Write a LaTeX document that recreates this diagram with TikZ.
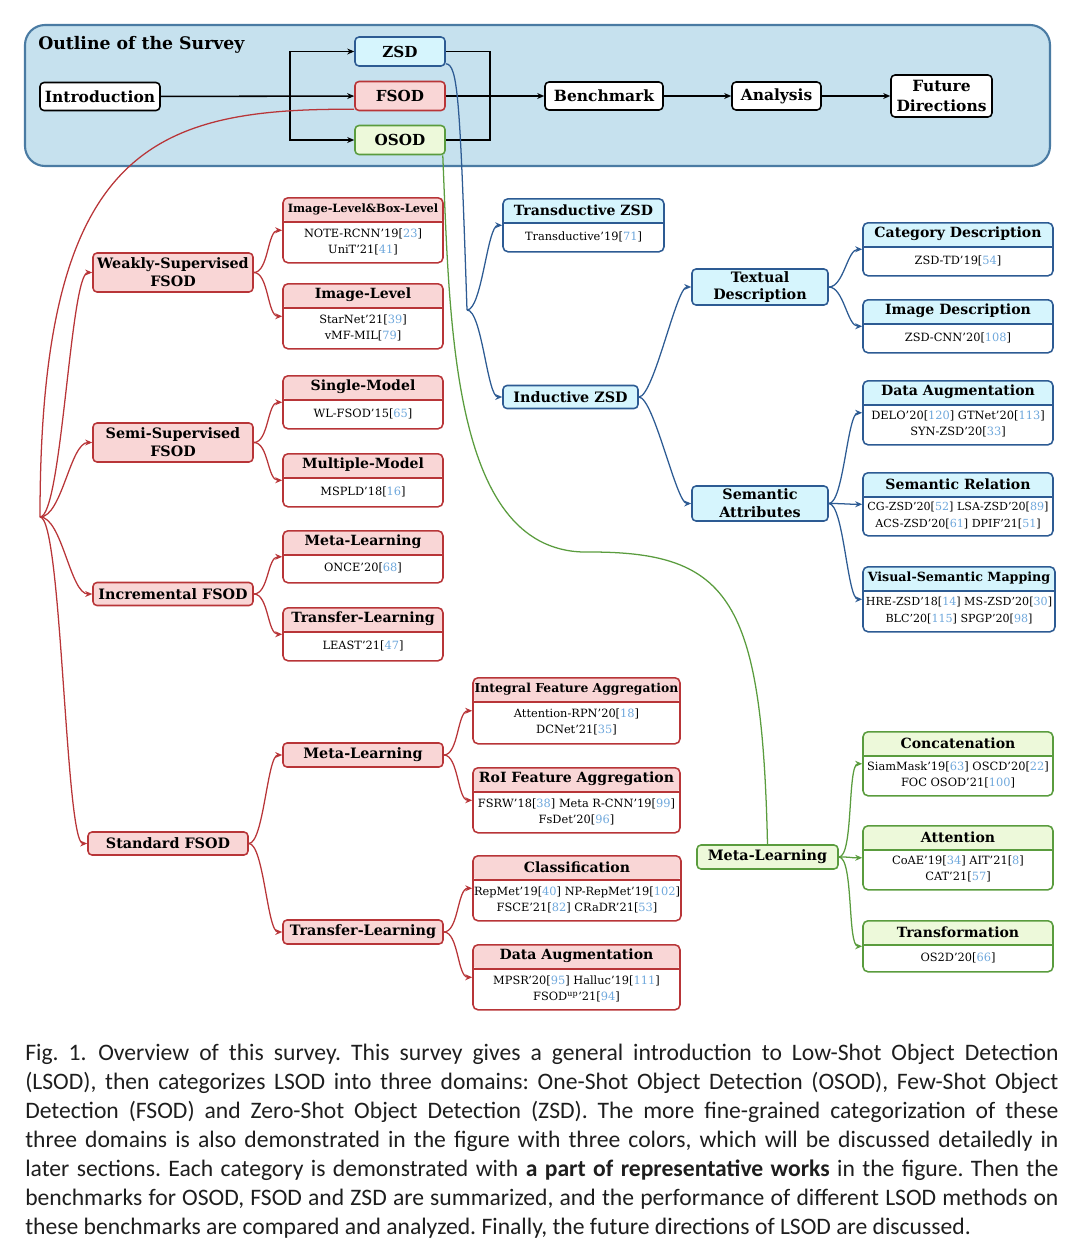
\documentclass[tikz,border=0pt]{standalone}
\usepackage{fontspec}
\setmainfont{DejaVu Serif}
\newfontfamily\capfont{Carlito}
\usetikzlibrary{arrows.meta}

\definecolor{panelfill}{HTML}{C6E1EE}
\definecolor{panelline}{HTML}{4A7BA3}
\definecolor{redfill}{HTML}{F9D6D6}
\definecolor{redline}{HTML}{B83538}
\definecolor{bluefill}{HTML}{D6F5FD}
\definecolor{blueline}{HTML}{2D5B93}
\definecolor{greenfill}{HTML}{EDF9DA}
\definecolor{greenline}{HTML}{5A9C3E}
\definecolor{citeblue}{HTML}{6FA8DC}
\definecolor{captext}{HTML}{1E1E1E}

\newdimen\px \px=0.025cm
\newcommand{\cit}[1]{[{\color{citeblue}#1}]}
% box with a coloured title strip: [body opts]{colour}{name}{x}{top}{width}{height}{title}{works}
\newcommand{\leafnode}[9][]{%
  \node[leaf=#2, minimum width=#6\px, minimum height=#7\px] (#3) at (#4,#5) {};
  \node[head] (#3-head) at (#4,#5+12) {#8};
  \node[body, #1] (#3-body) at (#4,{#5+12+#7/2}) {#9};
}

\tikzset{
  box/.style={rounded corners=4\px, line width=1.1pt, inner sep=1pt, align=center,
    font=\bfseries\fontsize{10.2}{12.6}\selectfont},
  topbox/.style={box, draw=black, fill=white, minimum height=28\px,
    font=\bfseries\fontsize{11}{14.2}\selectfont},
  domainbox/.style={minimum width=90\px, minimum height=29\px,
    font=\bfseries\fontsize{10.8}{13}\selectfont},
  redbox/.style={box, draw=redline, fill=redfill},
  bluebox/.style={box, draw=blueline, fill=bluefill},
  greenbox/.style={box, draw=greenline, fill=greenfill},
  leaf/.style={draw=#1line, fill=white, rounded corners=5\px, line width=1.1pt, anchor=north,
    path picture={
      \fill[#1fill] (path picture bounding box.north west) rectangle ([yshift=-24\px]path picture bounding box.north east);
      \draw[#1line, line width=1.1pt] ([yshift=-24\px]path picture bounding box.north west) -- ([yshift=-24\px]path picture bounding box.north east);
    }},
  head/.style={font=\bfseries\fontsize{10}{11}\selectfont, inner sep=0pt},
  body/.style={font=\fontsize{8.1}{11.4}\selectfont, align=center, inner sep=0pt},
  link/.style={line width=0.9pt, -{Stealth[length=5pt,width=4.2pt]}},
  toplink/.style={link, draw=black, line width=1.1pt},
  redlink/.style={link, draw=redline},
  bluelink/.style={link, draw=blueline},
  greenlink/.style={link, draw=greenline},
}

\begin{document}
\begin{tikzpicture}[x=0.025cm, y=-0.025cm]
\useasboundingbox (0,0) rectangle (1080,1258);

% outline of the survey
\draw[panelline, fill=panelfill, line width=1.5pt, rounded corners=20\px] (25,25) rectangle (1050,166);
\node[anchor=base west, inner sep=0pt, font=\bfseries\fontsize{12.3}{14}\selectfont] (outline) at (38,49) {Outline of the Survey};

\node[topbox, minimum width=120\px] (intro) at (100,96.5) {Introduction};
\node[bluebox, domainbox] (zsd) at (400,51.5) {ZSD};
\node[redbox, domainbox] (fsod) at (400,96) {FSOD};
\node[greenbox, domainbox] (osod) at (400,140) {OSOD};
\node[topbox, minimum width=118\px] (bench) at (604,96) {Benchmark};
\node[topbox, minimum width=89\px] (anal) at (776.5,96) {Analysis};
\node[topbox, minimum width=101\px, minimum height=42\px] (future) at (941.5,96) {Future\\Directions};

\coordinate (split) at (290,96);
\coordinate (join) at (490,96);
\draw[toplink] (intro) -- (fsod);
\draw[toplink] (split) |- (zsd);
\draw[toplink] (split) |- (osod);
\draw[toplink, -] (zsd) -| (join);
\draw[toplink, -] (osod) -| (join);
\draw[toplink] (fsod) -- (bench);
\draw[toplink] (bench) -- (anal);
\draw[toplink] (anal) -- (future);

% FSOD
\node[redbox, minimum width=160\px, minimum height=39\px] (weakly) at (173,272.5) {Weakly-Supervised\\FSOD};
\node[redbox, minimum width=160\px, minimum height=39\px] (semi) at (173,442.5) {Semi-Supervised\\FSOD};
\node[redbox, minimum width=160\px, minimum height=23\px] (incr) at (173,594) {Incremental FSOD};
\node[redbox, minimum width=160\px, minimum height=23\px] (std) at (168,843.5) {Standard FSOD};
\node[redbox, minimum width=160\px, minimum height=24\px] (stdml) at (363,755) {Meta-Learning};
\node[redbox, minimum width=160\px, minimum height=24\px] (stdtl) at (363,932) {Transfer-Learning};

\leafnode{red}{ilbl}{363}{197}{160}{65}{\fontsize{8.1}{9}\selectfont Image-Level\&Box-Level}{NOTE-RCNN'19\cit{23}\\UniT'21\cit{41}}
\leafnode{red}{il}{363}{283}{160}{65}{Image-Level}{StarNet'21\cit{39}\\vMF-MIL\cit{79}}
\leafnode{red}{single}{363}{375}{160}{53}{Single-Model}{WL-FSOD'15\cit{65}}
\leafnode{red}{multi}{363}{453}{160}{53}{Multiple-Model}{MSPLD'18\cit{16}}
\leafnode{red}{incml}{363}{530}{160}{52}{Meta-Learning}{ONCE'20\cit{68}}
\leafnode{red}{inctl}{363}{607}{160}{53}{Transfer-Learning}{LEAST'21\cit{47}}
\leafnode{red}{ifa}{576.5}{677}{207}{66}{\fontsize{8.8}{10}\selectfont Integral Feature Aggregation}{Attention-RPN'20\cit{18}\\DCNet'21\cit{35}}
\leafnode{red}{rfa}{576.5}{767}{207}{65}{RoI Feature Aggregation}{FSRW'18\cit{38} Meta R-CNN'19\cit{99}\\FsDet'20\cit{96}}
\leafnode{red}{cls}{577}{855}{208}{65}{Classification}{RepMet'19\cit{40} NP-RepMet'19\cit{102}\\FSCE'21\cit{82} CRaDR'21\cit{53}}
\leafnode{red}{daf}{576.5}{944}{207}{65}{Data Augmentation}{MPSR'20\cit{95} Halluc'19\cit{111}\\FSOD\textsuperscript{up}'21\cit{94}}

\coordinate (fsfork) at (40,517);
\draw[redlink, -] ([yshift=2\px]fsod.south west) .. controls (150,108) and (40,150) .. (fsfork);
\foreach \n in {weakly,semi,incr,std}
  \draw[redlink] (fsfork) .. controls +(22,0) and +(-22,0) .. (\n.west);
\foreach \p/\c in {weakly/ilbl,weakly/il,semi/single,semi/multi,incr/incml,incr/inctl,std/stdml,std/stdtl,stdml/ifa,stdml/rfa,stdtl/cls,stdtl/daf}
  \draw[redlink] (\p.east) .. controls +(15,0) and +(-15,0) .. (\c.west);

% ZSD
\node[bluebox, minimum width=135\px, minimum height=23\px] (induct) at (570.5,397) {Inductive ZSD};
\node[bluebox, minimum width=136\px, minimum height=36\px] (textual) at (760,287) {Textual\\Description};
\node[bluebox, minimum width=136\px, minimum height=35\px] (semattr) at (760,503.5) {Semantic\\Attributes};

\leafnode{blue}{trans}{583.5}{198}{161}{53}{Transductive ZSD}{Transductive'19\cit{71}}
\leafnode{blue}{catd}{958}{222}{190}{53}{Category Description}{ZSD-TD'19\cit{54}}
\leafnode{blue}{imgd}{958}{299}{190}{53}{Image Description}{ZSD-CNN'20\cit{108}}
\leafnode{blue}{dau}{958}{380}{190}{64}{Data Augmentation}{DELO'20\cit{120} GTNet'20\cit{113}\\SYN-ZSD'20\cit{33}}
\leafnode[font=\fontsize{7.9}{11.4}\selectfont]{blue}{semrel}{958}{472}{190}{63}{Semantic Relation}{CG-ZSD'20\cit{52} LSA-ZSD'20\cit{89}\\ACS-ZSD'20\cit{61} DPIF'21\cit{51}}
\leafnode[font=\fontsize{7.9}{11.4}\selectfont]{blue}{vsm}{959}{566}{192}{65}{\fontsize{9}{10}\selectfont Visual-Semantic Mapping}{HRE-ZSD'18\cit{14} MS-ZSD'20\cit{30}\\BLC'20\cit{115} SPGP'20\cit{98}}

\coordinate (zsfork) at (467,310);
\draw[bluelink, -] ([yshift=3\px]zsd.south east) .. controls (458,64) and (460,100) .. (zsfork);
\foreach \c in {trans,induct}
  \draw[bluelink] (zsfork) .. controls +(15,0) and +(-15,0) .. (\c.west);
\foreach \p/\c in {induct/textual,induct/semattr,textual/catd,textual/imgd,semattr/dau,semattr/semrel,semattr/vsm}
  \draw[bluelink] (\p.east) .. controls +(15,0) and +(-15,0) .. (\c.west);

% OSOD
\node[greenbox, minimum width=141\px, minimum height=24\px] (gml) at (767.5,857) {Meta-Learning};

\leafnode{green}{concat}{958}{731}{190}{64}{Concatenation}{SiamMask'19\cit{63} OSCD'20\cit{22}\\FOC OSOD'21\cit{100}}
\leafnode{green}{attn}{958}{825}{190}{64}{Attention}{CoAE'19\cit{34} AIT'21\cit{8}\\CAT'21\cit{57}}
\leafnode{green}{transf}{958}{920}{190}{51}{Transformation}{OS2D'20\cit{66}}

\draw[greenlink, -] ([xshift=-3\px]osod.south east) .. controls (450,330) and (452,556) .. (590,552) .. controls (730,552) and (762,600) .. (gml.north);
\foreach \c in {concat,attn,transf}
  \draw[greenlink] (gml.east) .. controls +(15,0) and +(-15,0) .. (\c.west);

% caption
\node[anchor=north west, text width=25.825cm, align=justify, inner sep=0pt, text=captext,
  font=\capfont\fontsize{16.8}{20.6}\selectfont] (caption) at (25,1044)
  {\frenchspacing\hyphenpenalty=10000\exhyphenpenalty=10000
  Fig. 1.\enspace Overview of this survey. This survey gives a general introduction to Low-Shot Object Detection\linebreak
  (LSOD), then categorizes LSOD into three domains: One-Shot Object Detection (OSOD), Few-Shot Object\linebreak
  Detection (FSOD) and Zero-Shot Object Detection (ZSD). The more fine-grained categorization of these\linebreak
  three domains is also demonstrated in the figure with three colors, which will be discussed detailedly in\linebreak
  later sections. Each category is demonstrated with \textbf{a part of representative works} in the figure. Then the\linebreak
  benchmarks for OSOD, FSOD and ZSD are summarized, and the performance of different LSOD methods on\linebreak
  these benchmarks are compared and analyzed. Finally, the future directions of LSOD are discussed.};
\end{tikzpicture}
\end{document}
